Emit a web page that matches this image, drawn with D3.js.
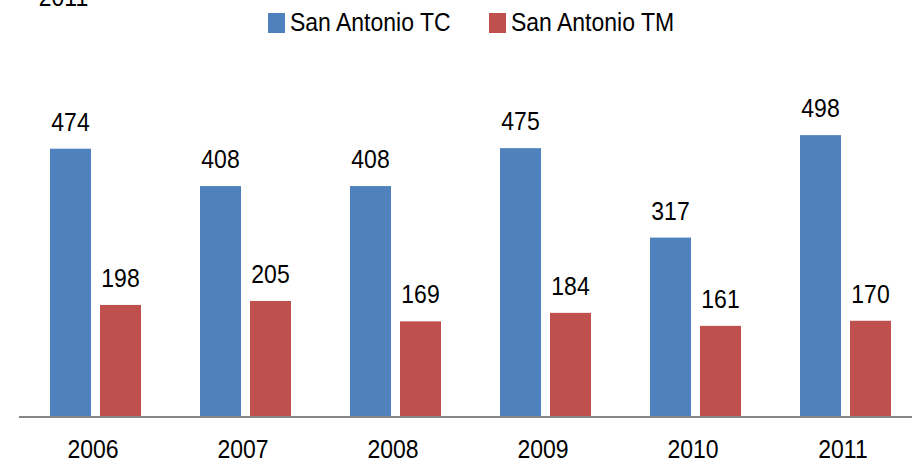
<!DOCTYPE html>
<html>
<head>
<meta charset="utf-8">
<script src="https://cdn.jsdelivr.net/npm/d3@7"></script>
<style>
  body { margin: 0; background: #fff; }
  text { font-family: "Liberation Sans", Arial, sans-serif; fill: #000; }
</style>
</head>
<body>
<script>
// data
const years = ["2006", "2007", "2008", "2009", "2010", "2011"];
const seriesNames = ["San Antonio TC", "San Antonio TM"];
const tcValues = [474, 408, 408, 475, 317, 498];
const tmValues = [198, 205, 169, 184, 161, 170];
const colors = ["#4F81BD", "#C0504D"];

const width = 912, height = 463;
const fs = 23, stretch = 1.1;

const svg = d3.select("body").append("svg")
  .attr("width", width)
  .attr("height", height);

const x = d3.scaleBand()
  .domain(years)
  .range([20, 920]);

const inner = d3.scaleBand()
  .domain(seriesNames)
  .range([30, 121])
  .paddingInner(0.18);

const y = d3.scaleLinear()
  .domain([0, 600])
  .range([417, 77.4]);

const rows = years.map((yr, i) => ({
  year: yr,
  vals: [
    { name: seriesNames[0], v: tcValues[i], c: colors[0] },
    { name: seriesNames[1], v: tmValues[i], c: colors[1] }
  ]
}));

// cut-off title on top left
svg.append("text")
  .attr("transform", `translate(63.5,6) scale(1,${stretch})`)
  .attr("text-anchor", "middle")
  .style("font-size", fs + "px")
  .text("2011");

const groups = svg.selectAll("g.year")
  .data(rows)
  .join("g")
  .attr("class", "year")
  .attr("transform", d => `translate(${x(d.year)},0)`);

groups.selectAll("rect")
  .data(d => d.vals)
  .join("rect")
  .attr("x", d => inner(d.name))
  .attr("width", inner.bandwidth())
  .attr("y", d => y(d.v))
  .attr("height", d => y(0) - y(d.v))
  .attr("fill", d => d.c);

groups.selectAll("text.val")
  .data(d => d.vals)
  .join("text")
  .attr("class", "val")
  .attr("text-anchor", "middle")
  .attr("transform", d => `translate(${inner(d.name) + inner.bandwidth() / 2},${y(d.v) - 18}) scale(1,${stretch})`)
  .style("font-size", fs + "px")
  .text(d => d.v);

// x axis
const xAxis = svg.append("g")
  .attr("transform", `translate(0,${y(0)})`)
  .call(d3.axisBottom(x).tickSize(0).tickPadding(0));
xAxis.select(".domain")
  .attr("d", "M19,0H912")
  .attr("stroke", "#868686")
  .attr("stroke-width", 2);
xAxis.selectAll(".tick text")
  .attr("y", null)
  .attr("dy", null)
  .attr("transform", `translate(-2,41) scale(1,${stretch})`)
  .style("font-size", fs + "px")
  .style("font-family", "Liberation Sans, Arial, sans-serif")
  .attr("fill", "#000");

// legend
const legendX = [268, 489];
const legend = svg.selectAll("g.legend")
  .data(seriesNames)
  .join("g")
  .attr("class", "legend")
  .attr("transform", (d, i) => `translate(${legendX[i]},13)`);

legend.append("rect")
  .attr("width", 17)
  .attr("height", 20)
  .attr("fill", (d, i) => colors[i]);

legend.append("text")
  .attr("transform", `translate(22,18) scale(1,${stretch})`)
  .style("font-size", fs + "px")
  .text(d => d);
</script>
</body>
</html>
